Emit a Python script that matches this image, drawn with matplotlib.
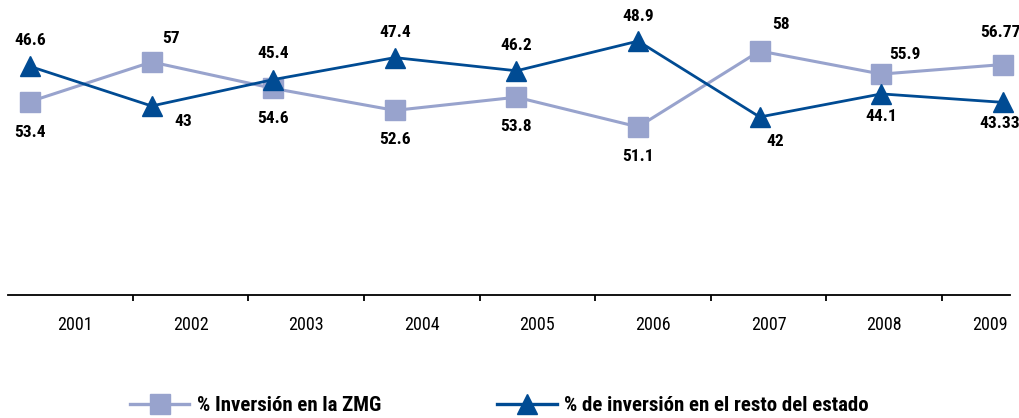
import matplotlib
matplotlib.use('Agg')
import matplotlib.pyplot as plt
import matplotlib.transforms as mtransforms
from matplotlib.lines import Line2D

plt.rcParams['font.family'] = ['Roboto Condensed', 'Archivo Narrow', 'DejaVu Sans']

# Data
years = ['2001', '2002', '2003', '2004', '2005', '2006', '2007', '2008', '2009']
zmg = [53.4, 57, 54.6, 52.6, 53.8, 51.1, 58, 55.9, 56.77]
resto = [46.6, 43, 45.4, 47.4, 46.2, 48.9, 42, 44.1, 43.33]
zmg_text = ['53.4', '57', '54.6', '52.6', '53.8', '51.1', '58', '55.9', '56.77']
resto_text = ['46.6', '43', '45.4', '47.4', '46.2', '48.9', '42', '44.1', '43.33']

light = '#98A3CD'
dark = '#004B93'

# label offsets (points) for each data label
zmg_off = [(0, -22), (14, 17), (0, -22), (0, -21), (0, -21), (0, -21), (15, 19), (17, 14), (-2, 23)]
resto_off = [(0, 19), (23, -11), (0, 19), (0, 18), (0, 18), (0, 18), (11, -18), (0, -16), (-2, -15)]

fig = plt.figure(figsize=(10.19, 4.18), dpi=100)
rect = [8 / 1019, 123 / 418, 1002 / 1019, 295 / 418]

# category axis carrying the year labels
ax = fig.add_axes(rect)
ax.set_xlim(-0.58, 8.09)
ax.set_ylim(0, 1)
for s in ['top', 'right', 'left']:
    ax.spines[s].set_visible(False)
ax.spines['bottom'].set_linewidth(1.3)
ax.set_yticks([])
ax.set_xticks(range(len(years)))
ax.set_xticklabels(years, fontsize=13)
ax.set_xticks([i + 0.5 for i in range(len(years) - 1)], minor=True)
ax.tick_params(axis='x', which='major', length=0, pad=15)
ax.tick_params(axis='x', which='minor', length=4, width=1.3, direction='out')
# last year label pulled in so it stays inside the figure
last = ax.get_xticklabels()[-1]
last.set_transform(last.get_transform() + mtransforms.ScaledTranslation(-10 / 100, 0, fig.dpi_scale_trans))

x = list(range(len(years)))


def series_axes(vmin, vmax):
    a = fig.add_axes(rect)
    a.patch.set_visible(False)
    a.set_axis_off()
    a.set_xlim(-0.181, 8.058)
    a.set_ylim(vmin, vmax)
    return a


ax_z = series_axes(35.818, 62.636)
ax_z.plot(x, zmg, color=light, lw=2.2, marker='s', ms=14, mec=light, mfc=light, clip_on=False)
for xi, v, t, off in zip(x, zmg, zmg_text, zmg_off):
    ax_z.annotate(t, (xi, v), xytext=off, textcoords='offset points',
                  ha='center', va='center', fontsize=12.5, fontweight='bold', color='black')

ax_r = series_axes(25.818, 52.636)
ax_r.plot(x, resto, color=dark, lw=2.0, marker='^', ms=14, mec=dark, mfc=dark, clip_on=False)
for xi, v, t, off in zip(x, resto, resto_text, resto_off):
    ax_r.annotate(t, (xi, v), xytext=off, textcoords='offset points',
                  ha='center', va='center', fontsize=12.5, fontweight='bold', color='black')

handles = [
    Line2D([], [], color=light, lw=2.4, marker='s', ms=14.5, mec=light, mfc=light),
    Line2D([], [], color=dark, lw=2.4, marker='^', ms=14.5, mec=dark, mfc=dark),
]
fig.legend(handles, ['% Inversión en la ZMG', '% de inversión en el resto del estado'],
           loc='center', bbox_to_anchor=(0.49, 0.029), ncol=2, frameon=False,
           prop={'size': 15, 'weight': 'bold'}, handlelength=2.85, handletextpad=0.35,
           columnspacing=5.6)

fig.savefig('out.png', dpi=100)
